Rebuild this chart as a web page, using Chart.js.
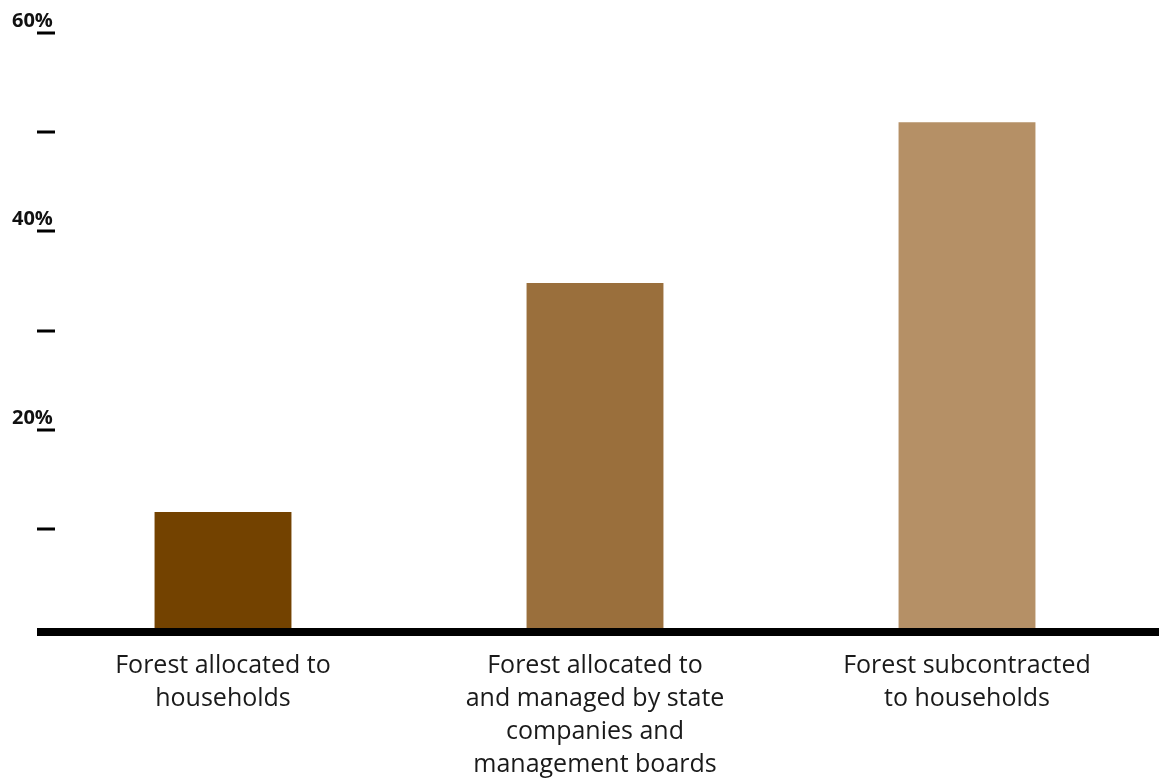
<!DOCTYPE html>
<html>
<head>
<meta charset="utf-8">
<script src="https://cdn.jsdelivr.net/npm/chart.js@4/dist/chart.umd.min.js"></script>
<style>
  html, body { margin: 0; padding: 0; background: #fff; }
  #wrap { width: 1159px; height: 778px; }
</style>
</head>
<body>
<div id="wrap"><canvas id="forestChart" width="1159" height="778"></canvas></div>
<script>
// categories, one array of lines per bar
const categories = [
    ["Forest allocated to", "households"],
    ["Forest allocated to", "and managed by state", "companies and", "management boards"],
    ["Forest subcontracted", "to households"]
];

// share of forest area, percent
const shares = [11.7, 34.8, 51.0];

const barColors = ["#734200", "#9a6f3c", "#b59066"];

// minor ticks on the left edge, only some of them get a label
const tickValues = [10, 20, 30, 40, 50, 60];
const tickLabels = { 20: "20%", 40: "40%", 60: "60%" };

// draws the baseline, the short tick marks and their labels
const axisMarks = {
    id: "axisMarks",
    afterDraw(chart) {
        const ctx = chart.ctx;
        const y = chart.scales.y;
        const area = chart.chartArea;
        ctx.save();

        // thick baseline under the bars
        const y0 = y.getPixelForValue(0);
        ctx.fillStyle = "#000";
        ctx.fillRect(area.left, y0, chart.width - area.left, 8);

        ctx.font = "700 20px 'Open Sans'";
        ctx.textAlign = "left";
        ctx.textBaseline = "alphabetic";
        tickValues.forEach(v => {
            const py = Math.round(y.getPixelForValue(v));
            ctx.fillStyle = "#000";
            ctx.fillRect(area.left, py - 1.5, 18, 3);
            if (tickLabels[v]) {
                ctx.fillStyle = "#111";
                ctx.fillText(tickLabels[v], 12, py - 6);
            }
        });
        ctx.restore();
    }
};

const chart = new Chart(document.getElementById("forestChart").getContext("2d"), {
    type: "bar",
    data: {
        labels: categories,
        datasets: [{
            data: shares,
            backgroundColor: barColors,
            borderWidth: 0,
            barPercentage: 0.368,
            categoryPercentage: 1
        }]
    },
    options: {
        responsive: false,
        animation: false,
        layout: {
            padding: { left: 37, right: 6, top: 33, bottom: -16 }
        },
        plugins: {
            legend: { display: false },
            tooltip: { enabled: false }
        },
        scales: {
            y: {
                display: false,
                min: 0,
                max: 60
            },
            x: {
                grid: { display: false },
                border: { display: false },
                ticks: {
                    color: "#1a1a1a",
                    padding: 13,
                    maxRotation: 0,
                    autoSkip: false,
                    font: { family: "'Open Sans'", size: 25, lineHeight: 1.32 }
                }
            }
        }
    },
    plugins: [axisMarks]
});
</script>
</body>
</html>
